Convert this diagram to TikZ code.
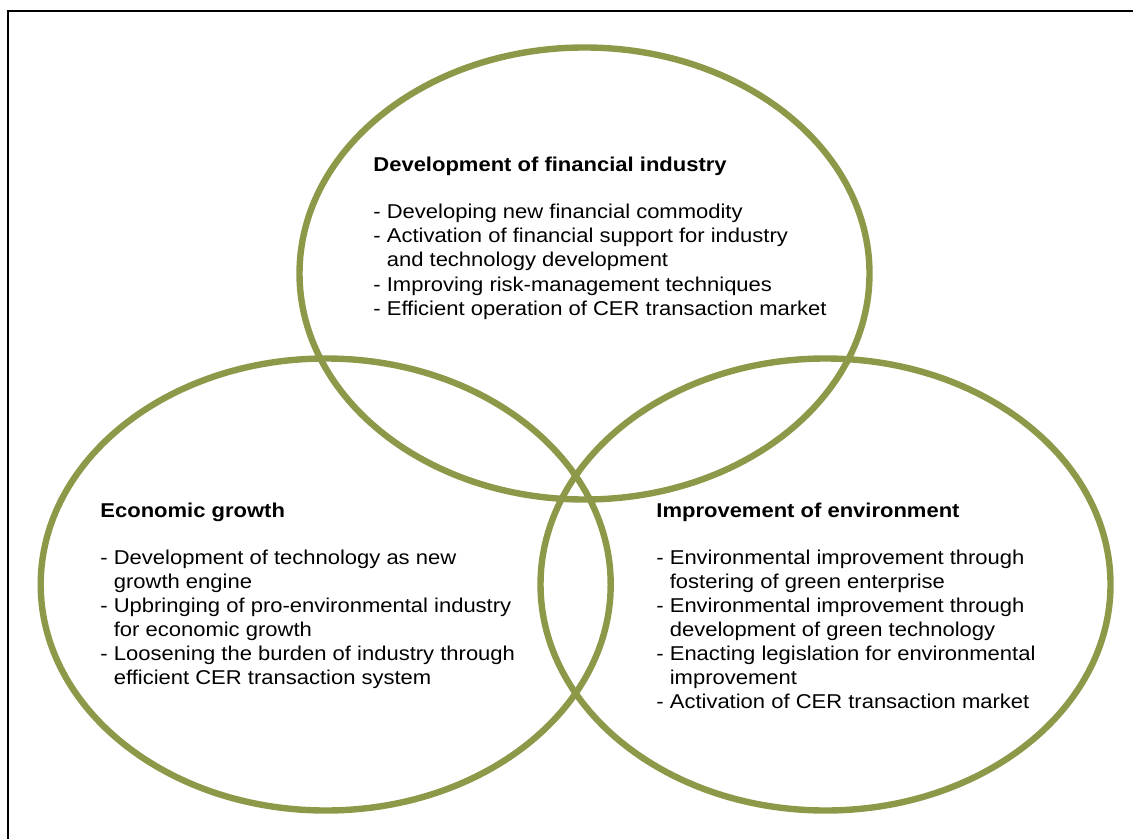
\documentclass[tikz,border=0pt]{standalone}
\usepackage{fontspec}
\setmainfont[FakeStretch=1.1]{Liberation Sans}
\usetikzlibrary{shapes.geometric}
\definecolor{ringolive}{RGB}{141,153,72}
\tikzset{
	ring/.style={ellipse,draw=ringolive,line width=3.2pt,inner sep=0pt,minimum width=285pt,minimum height=226pt},
	head/.style={anchor=base west,inner sep=0pt,font=\fontsize{10}{12}\selectfont\bfseries},
	% base of a list = baseline of its last line
	items/.style={anchor=base west,inner sep=0pt,align=left,font=\fontsize{10}{12}\selectfont}
}
\begin{document}
\begin{tikzpicture}[x=0.5pt,y=-0.5pt]
	\useasboundingbox (0,0) rectangle (1133,839);
	\draw[line width=1pt] (7.5,839) |- (1133,11);
	% the three circles
	\node[ring] (fin) at (584.5,273.5) {};
	\node[ring] (eco) at (325.7,584.5) {};
	\node[ring] (env) at (825.5,584.5) {};
	% texts
	\node[head] (finHead) at (373,172) {Development of financial industry};
	\node[items] (finList) at (373,315) {- Developing new financial commodity\\
		- Activation of financial support for industry\\
		\phantom{- }and technology development\\
		- Improving risk-management techniques\\
		- Efficient operation of CER transaction market};
	\node[head] (ecoHead) at (100,517) {Economic growth};
	\node[items] (ecoList) at (100,684) {- Development of technology as new\\
		\phantom{- }growth engine\\
		- Upbringing of pro-environmental industry\\
		\phantom{- }for economic growth\\
		- Loosening the burden of industry through\\
		\phantom{- }efficient CER transaction system};
	\node[head] (envHead) at (656,517) {Improvement of environment};
	\node[items] (envList) at (656,708) {- Environmental improvement through\\
		\phantom{- }fostering of green enterprise\\
		- Environmental improvement through\\
		\phantom{- }development of green technology\\
		- Enacting legislation for environmental\\
		\phantom{- }improvement\\
		- Activation of CER transaction market};
\end{tikzpicture}
\end{document}
